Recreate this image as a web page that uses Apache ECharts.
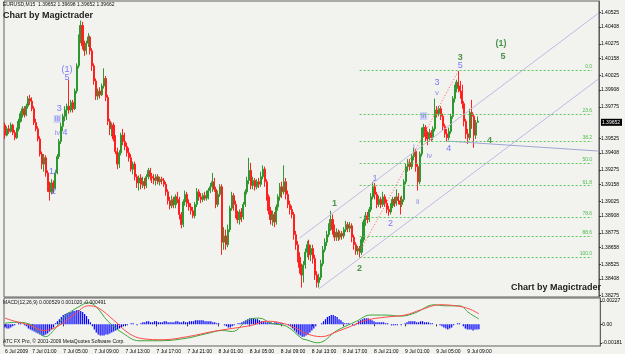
<!DOCTYPE html>
<html><head><meta charset="utf-8">
<script src="https://cdn.jsdelivr.net/npm/echarts@6/dist/echarts.min.js"></script>
<style>html,body{margin:0;padding:0;background:#f2f2ee}#c{width:625px;height:354px}</style>
</head><body><div id="c"></div>
<script>
// ---- candles (EURUSD M15) ----
const openP=[1.3963,1.3955,1.3960,1.3958,1.3963,1.3957,1.3953,1.3960,1.3966,1.3972,
1.3976,1.3971,1.3978,1.3984,1.3982,1.3976,1.3965,1.3960,1.3952,1.3940,
1.3932,1.3937,1.3925,1.3914,1.3910,1.3917,1.3913,1.3925,1.3938,1.3950,
1.3962,1.3970,1.3975,1.3978,1.3975,1.3981,1.3976,1.3990,1.4010,1.4032,
1.4042,1.4026,1.4022,1.4028,1.4033,1.4022,1.4010,1.3998,1.3986,1.3990,
1.3987,1.3994,1.4000,1.3985,1.3966,1.3960,1.3963,1.3952,1.3942,1.3932,
1.3941,1.3955,1.3950,1.3946,1.3941,1.3937,1.3928,1.3932,1.3922,1.3917,
1.3921,1.3916,1.3918,1.3915,1.3922,1.3927,1.3922,1.3921,1.3919,1.3922,
1.3918,1.3920,1.3919,1.3916,1.3910,1.3903,1.3899,1.3904,1.3900,1.3906,
1.3904,1.3892,1.3884,1.3902,1.3908,1.3901,1.3898,1.3895,1.3891,1.3900,
1.3910,1.3906,1.3904,1.3907,1.3905,1.3906,1.3911,1.3914,1.3918,1.3912,
1.3900,1.3908,1.3914,1.3870,1.3875,1.3868,1.3880,1.3897,1.3907,1.3900,
1.3892,1.3888,1.3894,1.3890,1.3900,1.3910,1.3919,1.3927,1.3915,1.3919,
1.3914,1.3918,1.3916,1.3922,1.3928,1.3918,1.3906,1.3895,1.3888,1.3892,
1.3886,1.3898,1.3906,1.3914,1.3910,1.3918,1.3908,1.3900,1.3896,1.3892,
1.3876,1.3868,1.3858,1.3850,1.3844,1.3852,1.3862,1.3868,1.3860,1.3865,
1.3857,1.3844,1.3838,1.3842,1.3853,1.3864,1.3870,1.3876,1.3882,1.3888,
1.3880,1.3874,1.3878,1.3874,1.3877,1.3875,1.3880,1.3884,1.3881,1.3883,
1.3874,1.3868,1.3863,1.3865,1.3862,1.3872,1.3886,1.3891,1.3888,1.3896,
1.3906,1.3914,1.3908,1.3900,1.3904,1.3900,1.3906,1.3901,1.3896,1.3894,
1.3899,1.3904,1.3901,1.3906,1.3903,1.3900,1.3904,1.3918,1.3930,1.3933,
1.3930,1.3938,1.3942,1.3930,1.3918,1.3940,1.3958,1.3961,1.3954,1.3952,
1.3957,1.3953,1.3960,1.3975,1.3972,1.3976,1.3970,1.3962,1.3956,1.3953,
1.3958,1.3970,1.3984,1.3992,1.3997,1.3994,1.3990,1.3980,1.3966,1.3956,
1.3953,1.3973,1.3970,1.3955,1.39652];
const closeP=[1.3955,1.3960,1.3958,1.3963,1.3957,1.3953,1.3960,1.3966,1.3972,1.3976,
1.3971,1.3978,1.3984,1.3982,1.3976,1.3965,1.3960,1.3952,1.3940,1.3932,
1.3937,1.3925,1.3914,1.3910,1.3917,1.3913,1.3925,1.3938,1.3950,1.3962,
1.3970,1.3975,1.3978,1.3975,1.3981,1.3976,1.3990,1.4010,1.4032,1.4042,
1.4026,1.4022,1.4028,1.4033,1.4022,1.4010,1.3998,1.3986,1.3990,1.3987,
1.3994,1.4000,1.3985,1.3966,1.3960,1.3963,1.3952,1.3942,1.3932,1.3941,
1.3955,1.3950,1.3946,1.3941,1.3937,1.3928,1.3932,1.3922,1.3917,1.3921,
1.3916,1.3918,1.3915,1.3922,1.3927,1.3922,1.3921,1.3919,1.3922,1.3918,
1.3920,1.3919,1.3916,1.3910,1.3903,1.3899,1.3904,1.3900,1.3906,1.3904,
1.3892,1.3884,1.3902,1.3908,1.3901,1.3898,1.3895,1.3891,1.3900,1.3910,
1.3906,1.3904,1.3907,1.3905,1.3906,1.3911,1.3914,1.3918,1.3912,1.3900,
1.3908,1.3914,1.3870,1.3875,1.3868,1.3880,1.3897,1.3907,1.3900,1.3892,
1.3888,1.3894,1.3890,1.3900,1.3910,1.3919,1.3927,1.3915,1.3919,1.3914,
1.3918,1.3916,1.3922,1.3928,1.3918,1.3906,1.3895,1.3888,1.3892,1.3886,
1.3898,1.3906,1.3914,1.3910,1.3918,1.3908,1.3900,1.3896,1.3892,1.3876,
1.3868,1.3858,1.3850,1.3844,1.3852,1.3862,1.3868,1.3860,1.3865,1.3857,
1.3844,1.3838,1.3842,1.3853,1.3864,1.3870,1.3876,1.3882,1.3888,1.3880,
1.3874,1.3878,1.3874,1.3877,1.3875,1.3880,1.3884,1.3881,1.3883,1.3874,
1.3868,1.3863,1.3865,1.3862,1.3872,1.3886,1.3891,1.3888,1.3896,1.3906,
1.3914,1.3908,1.3900,1.3904,1.3900,1.3906,1.3901,1.3896,1.3894,1.3899,
1.3904,1.3901,1.3906,1.3903,1.3900,1.3904,1.3918,1.3930,1.3933,1.3930,
1.3938,1.3942,1.3930,1.3918,1.3940,1.3958,1.3961,1.3954,1.3952,1.3957,
1.3953,1.3960,1.3975,1.3972,1.3976,1.3970,1.3962,1.3956,1.3953,1.3958,
1.3970,1.3984,1.3992,1.3997,1.3994,1.3990,1.3980,1.3966,1.3956,1.3953,
1.3973,1.3970,1.3955,1.3965,1.39662];
const lowP=[1.3952,1.3954,1.3956,1.3957,1.3955,1.3951,1.3952,1.3958,1.3965,1.3969,
1.3969,1.3970,1.3976,1.3979,1.3974,1.3963,1.3958,1.3950,1.3938,1.3928,
1.3926,1.3922,1.3910,1.3903,1.3908,1.3909,1.3912,1.3924,1.3936,1.3948,
1.3958,1.3966,1.3967,1.3972,1.3973,1.3973,1.3975,1.3988,1.4008,1.4028,
1.4023,1.4018,1.4019,1.4025,1.4019,1.4006,1.3995,1.3983,1.3983,1.3984,
1.3986,1.3992,1.3982,1.3963,1.3955,1.3954,1.3950,1.3940,1.3928,1.3929,
1.3939,1.3947,1.3943,1.3938,1.3934,1.3926,1.3924,1.3919,1.3913,1.3911,
1.3912,1.3913,1.3912,1.3913,1.3920,1.3919,1.3917,1.3916,1.3915,1.3916,
1.3915,1.3916,1.3914,1.3907,1.3900,1.3896,1.3897,1.3897,1.3897,1.3901,
1.3888,1.3881,1.3882,1.3899,1.3898,1.3895,1.3892,1.3889,1.3889,1.3898,
1.3903,1.3901,1.3902,1.3903,1.3903,1.3904,1.3909,1.3910,1.3910,1.3897,
1.3898,1.3906,1.3860,1.3864,1.3864,1.3866,1.3878,1.3895,1.3895,1.3889,
1.3885,1.3884,1.3886,1.3888,1.3898,1.3908,1.3916,1.3912,1.3912,1.3911,
1.3912,1.3913,1.3914,1.3920,1.3914,1.3903,1.3892,1.3884,1.3883,1.3882,
1.3884,1.3895,1.3903,1.3905,1.3908,1.3904,1.3897,1.3892,1.3889,1.3872,
1.3864,1.3854,1.3845,1.3834,1.3838,1.3849,1.3858,1.3856,1.3855,1.3853,
1.3840,1.3834,1.3834,1.3840,1.3851,1.3862,1.3867,1.3874,1.3879,1.3876,
1.3871,1.3871,1.3871,1.3872,1.3872,1.3873,1.3878,1.3878,1.3878,1.3870,
1.3864,1.3860,1.3860,1.3858,1.3860,1.3870,1.3883,1.3885,1.3886,1.3894,
1.3904,1.3904,1.3897,1.3898,1.3897,1.3898,1.3898,1.3893,1.3891,1.3892,
1.3897,1.3898,1.3899,1.3900,1.3892,1.3898,1.3902,1.3916,1.3926,1.3927,
1.3928,1.3935,1.3926,1.3911,1.3916,1.3938,1.3953,1.3950,1.3947,1.3950,
1.3950,1.3951,1.3958,1.3969,1.3970,1.3967,1.3959,1.3953,1.3950,1.3951,
1.3956,1.3968,1.3981,1.3989,1.3989,1.3984,1.3976,1.3962,1.3952,1.3948,
1.3951,1.3960,1.3945,1.3952,1.39652];
const highP=[1.3965,1.3962,1.3963,1.3965,1.3964,1.3959,1.3961,1.3968,1.3974,1.3978,
1.3978,1.3980,1.3986,1.3987,1.3985,1.3978,1.3968,1.3962,1.3954,1.3942,
1.3940,1.3939,1.3927,1.3918,1.3920,1.3919,1.3927,1.3940,1.3952,1.3965,
1.3972,1.3978,1.3980,1.3999,1.3983,1.3983,1.3992,1.4012,1.4035,1.4046,
1.4045,1.4030,1.4030,1.4036,1.4034,1.4024,1.4012,1.4000,1.3992,1.3993,
1.3996,1.4008,1.4002,1.3987,1.3968,1.3965,1.3965,1.3955,1.3945,1.3943,
1.3957,1.3960,1.3957,1.3949,1.3945,1.3940,1.3934,1.3934,1.3924,1.3923,
1.3924,1.3922,1.3921,1.3924,1.3929,1.3929,1.3925,1.3924,1.3924,1.3924,
1.3922,1.3922,1.3921,1.3918,1.3912,1.3906,1.3907,1.3906,1.3908,1.3910,
1.3906,1.3894,1.3904,1.3911,1.3910,1.3904,1.3901,1.3898,1.3902,1.3913,
1.3912,1.3909,1.3909,1.3910,1.3911,1.3913,1.3917,1.3925,1.3921,1.3914,
1.3911,1.3916,1.3916,1.3882,1.3880,1.3884,1.3899,1.3910,1.3909,1.3903,
1.3895,1.3896,1.3897,1.3902,1.3912,1.3922,1.3937,1.3933,1.3922,1.3921,
1.3920,1.3921,1.3926,1.3931,1.3930,1.3920,1.3908,1.3898,1.3895,1.3894,
1.3900,1.3908,1.3917,1.3918,1.3931,1.3921,1.3911,1.3903,1.3899,1.3894,
1.3879,1.3871,1.3862,1.3853,1.3855,1.3865,1.3871,1.3872,1.3868,1.3868,
1.3860,1.3847,1.3845,1.3856,1.3867,1.3873,1.3879,1.3885,1.3895,1.3892,
1.3884,1.3881,1.3880,1.3879,1.3879,1.3882,1.3887,1.3886,1.3886,1.3885,
1.3876,1.3870,1.3867,1.3867,1.3874,1.3888,1.3894,1.3894,1.3898,1.3909,
1.3918,1.3917,1.3910,1.3907,1.3906,1.3910,1.3908,1.3904,1.3899,1.3901,
1.3906,1.3906,1.3912,1.3909,1.3906,1.3907,1.3920,1.3932,1.3936,1.3936,
1.3940,1.3945,1.3944,1.3932,1.3942,1.3961,1.3964,1.3963,1.3958,1.3960,
1.3959,1.3962,1.3984,1.3978,1.3978,1.3978,1.3972,1.3964,1.3960,1.3961,
1.3972,1.3986,1.3995,1.3999,1.4006,1.3998,1.3995,1.3982,1.3968,1.3960,
1.3976,1.3983,1.3972,1.3967,1.39698];

// ---- axes ----
const totalSlots=307;
const timeLabels=["6 Jul 2009","7 Jul 01:00","7 Jul 05:00","7 Jul 09:00","7 Jul 13:00","7 Jul 17:00","7 Jul 21:00","8 Jul 01:00","8 Jul 05:00","8 Jul 09:00","8 Jul 13:00","8 Jul 17:00","8 Jul 21:00","9 Jul 01:00","9 Jul 05:00","9 Jul 09:00"];
const timeLabelIdx=[0,14,30,46,62,78,94,110,126,142,158,174,190,206,222,238];
const priceTicks=[1.40525,1.40408,1.40275,1.40158,1.40025,1.39908,1.39775,1.39525,1.39408,1.39275,1.39158,1.39025,1.38908,1.38775,1.38658,1.38525,1.38408,1.38275];
const lastPrice=1.39652;
const macdTicks=[0.00227,0,-0.00181];

// ---- MACD ----
const macdHist=[-0.0003,-0.0004,-0.0004,-0.0003,-0.0002,-0.0001,0,0.0001,0.0001,0,
-0.0001,-0.0002,-0.0004,-0.0005,-0.0006,-0.0007,-0.0008,-0.0009,-0.0010,-0.0011,-0.0011,-0.0010,-0.0009,-0.0007,-0.0005,-0.0003,
0.0001,0.0003,0.0005,0.0007,0.0009,0.0010,0.0011,0.0012,0.0012,0.0013,0.0013,0.0014,0.0014,0.0013,0.0012,0.0010,0.0008,0.0005,0.0002,
-0.0002,-0.0005,-0.0008,-0.0010,-0.0011,-0.0011,-0.0011,-0.0010,-0.0010,-0.0009,-0.0008,-0.0007,-0.0006,-0.0005,-0.0004,-0.0003,-0.0002,
-0.0001,-0.0001,0,0.0001,0.0001,0,-0.0001,0,0.0001,
0.0002,0.0002,0.0003,0.0003,0.0002,0.0002,0.0003,0.0003,0.0002,0.0002,0.0002,0.0003,0.0003,0.0002,0.0002,0.0002,0.0002,0.0003,0.0003,0.0002,0.0002,0.0003,0.0002,0.0002,0.0003,
0.0003,0.0003,0.0004,0.0004,0.0004,0.0004,0.0004,0.0003,0.0003,0.0003,0.0003,0.0002,0.0002,0.0001,0.0001,0,0,
-0.0001,-0.0002,-0.0003,-0.0003,-0.0002,-0.0001,
0,0.0001,0.0001,0.0002,
0.0003,0.0004,0.0005,0.0006,0.0006,0.0006,0.0005,0.0005,0.0004,0.0003,0.0003,0.0002,0.0002,
0.0002,0.0002,0.0001,0.0002,0.0002,0.0001,0.0001,0.0001,0,0,
-0.0001,-0.0002,-0.0004,
-0.0006,-0.0008,-0.0010,-0.0011,-0.0012,-0.0012,-0.0011,-0.0010,-0.0008,-0.0006,-0.0004,-0.0002,
0,0,0.0001,
0.0003,0.0005,0.0007,0.0008,0.0009,0.0009,0.0008,0.0007,0.0005,0.0004,0.0002,0.0001,
0.0001,0.0001,0,-0.0001,-0.0001,
0.0001,0.0003,0.0004,0.0005,0.0006,0.0006,0.0006,0.0005,0.0004,0.0003,0.0002,0.0002,
0.0002,0.0002,0.0002,0.0001,0.0001,
0,-0.0001,-0.0001,-0.0001,-0.0001,0,-0.0001,0,0.0001,
0.0002,0.0003,0.0003,0.0003,0.0003,0.0002,0.0002,0.0003,0.0003,0.0002,0.0002,0.0002,0.0001,0.0001,
0,0,0,-0.0001,
-0.0002,-0.0003,-0.0004,-0.0005,-0.0004,-0.0003,-0.0001,
0,0.0001,0.0001,0,
-0.0002,-0.0004,-0.0005,-0.0005,-0.0005,-0.0006,-0.0005,-0.0005,-0.000491];
const macdMain=[[0,0.0001],[5,0.0002],[13,0],[21,-0.0012],[25,-0.0006],[31,0.0008],[38,0.0017],[43,0.0021],[47,0.0017],[53,0.0003],[61,-0.0009],[69,-0.0016],[79,-0.0016],[92,-0.0014],[104,-0.0009],[112,-0.0006],[117,-0.0007],[125,0.0004],[131,0.0006],[137,0.0001],[145,-0.0002],[153,-0.0014],[155,-0.0015],[161,-0.0018],[171,-0.0006],[181,0.0003],[188,0.0009],[196,0.0009],[204,0.0008],[211,0.0011],[221,0.0019],[227,0.0018],[234,0.0018],[239,0.0011],[244,0.000529]];
const macdSignal=[[0,0.0006],[5,0.0003],[13,-0.0001],[20,-0.0006],[28,-0.0001],[36,0.0010],[43,0.0018],[48,0.0016],[56,0.0004],[64,-0.0009],[71,-0.0014],[81,-0.0015],[94,-0.0012],[107,-0.0007],[117,-0.0004],[127,-0.0001],[135,0.0003],[143,0.0001],[150,-0.0004],[155,-0.0009],[163,-0.0012],[171,-0.0007],[178,-0.0002],[186,0.0004],[196,0.0007],[206,0.0009],[214,0.0014],[224,0.0019],[232,0.0018],[239,0.0015],[244,0.001020]];

// ---- annotations ----
const fibLabels=["0.0","23.6","38.2","50.0","61.8","78.6","88.6","100.0"];
const fibPrices=[1.40067,1.39717,1.39505,1.39325,1.39149,1.38900,1.38751,1.38582];
const fibSpan=[183,303];
const channelUpper=[[152,1.38733],[306,1.40515]];
const channelLower=[[162,1.38330],[306,1.39993]];
const baseLine4=[[228,1.39503],[306,1.39424]];
const dottedWave=[[184,1.38650],[234,1.40060]];
const majorLabels=[["(1)",256,1.40274],["5",257,1.40178],["3",235,1.40170],["4",250,1.39504],["1",170,1.39011],["2",183,1.38495]];
const minorLabels=[["(1)",32,1.40075],["5",32,1.40004],["3",28,1.39765],["4",31,1.39567],["1",23.5,1.39265],["2",25,1.39106],["5",235,1.40099],["3",223.4,1.39964],["4",229,1.39440],["1",191,1.39202],["2",199.4,1.38852]];
const romanLabels=[["iii",27,1.39678],["iv",27,1.39567],["i",26.3,1.39257],["v",223.4,1.39885],["iii",215.7,1.39702],["i",211,1.39456],["iv",219.3,1.39384],["ii",213.2,1.39019]];

// ---- build ----
const cats=[];for(let i=0;i<totalSlots;i++)cats.push(String(i));
const labelAt={};timeLabelIdx.forEach((k,j)=>labelAt[k]=timeLabels[j]);
const candles=openP.map((o,i)=>[o,closeP[i],lowP[i],highP[i]]);
const FF='Liberation Sans';
function seg(a,b,style,label){const s={coord:a,lineStyle:style};if(label)s.label=label;return [s,{coord:b}];}
const chanStyle={color:'#c4b8e4',width:1,type:'solid'};
const mlData=[
 seg(channelUpper[0],channelUpper[1],chanStyle),
 seg(channelLower[0],channelLower[1],chanStyle),
 seg(baseLine4[0],baseLine4[1],{color:'#9fa6d6',width:1,type:'solid'}),
 seg(dottedWave[0],dottedWave[1],{color:'#ff5a5a',width:1,type:[1,2]})
];
fibPrices.forEach((p,k)=>mlData.push(seg([fibSpan[0],p],[fibSpan[1],p],{color:'#5cc85c',width:1,type:[2,2]},
 {show:true,formatter:fibLabels[k],position:'insideEndTop',distance:[0,1],color:'#4cbb4c',fontSize:5,fontFamily:FF})));
function lab(arr,color,size,weight,bg){return arr.map(a=>({value:[a[1],a[2]],name:a[0],label:{show:true,formatter:a[0],position:'inside',color:color,fontSize:size,fontWeight:weight,fontFamily:FF,backgroundColor:bg&&a[0]==='iii'?bg:'transparent',padding:[0,1]}}));}
const txt=(t,l,tp,sz,w,c)=>({text:t,left:l,top:tp,padding:0,textStyle:{fontSize:sz,fontWeight:w,color:c,fontFamily:FF}});

const chart=echarts.init(document.getElementById('c'),null,{renderer:'canvas'});
chart.setOption({
 animation:false,
 backgroundColor:'#f2f2ee',
 title:[
  txt('EURUSD,M15  1.39652 1.39698 1.39652 1.39662',3,2,5,'normal','#111'),
  txt('Chart by Magictrader',3,11,9,'bold','#222'),
  txt('Chart by Magictrader',511,283,9,'bold','#222'),
  txt('MACD(12,26,9) 0.000529 0.001020 -0.000491',3,300,5,'normal','#111'),
  txt('ATC FX Pro, \u00a9 2001-2009 MetaQuotes Software Corp.',3,339,5,'normal','#111')
 ],
 grid:[
  {left:4,right:19,top:1,height:296,show:true,borderColor:'#606060',borderWidth:1,backgroundColor:'transparent'},
  {left:4,right:19,top:298,height:48,show:true,borderColor:'#606060',borderWidth:1,backgroundColor:'transparent'}
 ],
 xAxis:[
  {type:'category',gridIndex:0,data:cats,boundaryGap:true,axisLine:{show:false},axisTick:{show:false},axisLabel:{show:false},splitLine:{show:false}},
  {type:'category',gridIndex:1,data:cats,boundaryGap:true,axisLine:{show:false},
   axisTick:{show:true,interval:(i)=>labelAt[i]!==undefined,length:2,lineStyle:{color:'#333'},alignWithLabel:true},
   axisLabel:{show:true,interval:(i)=>labelAt[i]!==undefined,formatter:(v,i)=>labelAt[i]||'',align:'left',fontSize:5,color:'#000',margin:3,fontFamily:FF},
   splitLine:{show:false}}
 ],
 yAxis:[
  {type:'value',gridIndex:0,position:'right',min:1.38265,max:1.40615,splitLine:{show:false},
   axisLine:{show:true,lineStyle:{color:'#606060'}},
   axisTick:{show:true,length:2,customValues:priceTicks,lineStyle:{color:'#333'}},
   axisLabel:{show:true,customValues:priceTicks.concat([lastPrice]),fontSize:5,color:'#000',margin:2,fontFamily:FF,
    formatter:v=>Math.abs(v-lastPrice)<1e-9?'{b|'+v.toFixed(5)+'}':v.toFixed(5),
    rich:{b:{backgroundColor:'#000',color:'#fff',fontSize:5,padding:[1,2,1,1],fontFamily:FF}}}},
  {type:'value',gridIndex:1,position:'right',min:-0.00211,max:0.00256,splitLine:{show:false},
   axisLine:{show:true,lineStyle:{color:'#606060'}},
   axisTick:{show:true,length:2,customValues:macdTicks,lineStyle:{color:'#333'}},
   axisLabel:{show:true,customValues:macdTicks,fontSize:5,color:'#000',margin:2,fontFamily:FF,
    formatter:v=>v===0?'0.00':v.toFixed(5)}}
 ],
 series:[
  {type:'candlestick',xAxisIndex:0,yAxisIndex:0,data:candles,barWidth:1.6,
   itemStyle:{color:'#2f972f',color0:'#ff2020',borderColor:'#2f972f',borderColor0:'#ff2020',borderWidth:1},
   markLine:{silent:true,symbol:'none',animation:false,label:{show:false},data:mlData}},
  {type:'scatter',xAxisIndex:0,yAxisIndex:0,symbolSize:0,silent:true,data:lab(majorLabels,'#1f7d1f',9,'bold')},
  {type:'scatter',xAxisIndex:0,yAxisIndex:0,symbolSize:0,silent:true,data:lab(minorLabels,'#5a5aff',9,'normal')},
  {type:'scatter',xAxisIndex:0,yAxisIndex:0,symbolSize:0,silent:true,data:lab(romanLabels,'#7a7ae6',8,'normal','#c3c8f2')},
  {type:'bar',xAxisIndex:1,yAxisIndex:1,data:macdHist,barWidth:1.2,itemStyle:{color:'#0000ff'}},
  {type:'line',xAxisIndex:1,yAxisIndex:1,data:macdMain,showSymbol:false,smooth:0.4,lineStyle:{color:'#3aa83a',width:1}},
  {type:'line',xAxisIndex:1,yAxisIndex:1,data:macdSignal,showSymbol:false,smooth:0.4,lineStyle:{color:'#ff4a4a',width:1}}
 ]
});
</script></body></html>
